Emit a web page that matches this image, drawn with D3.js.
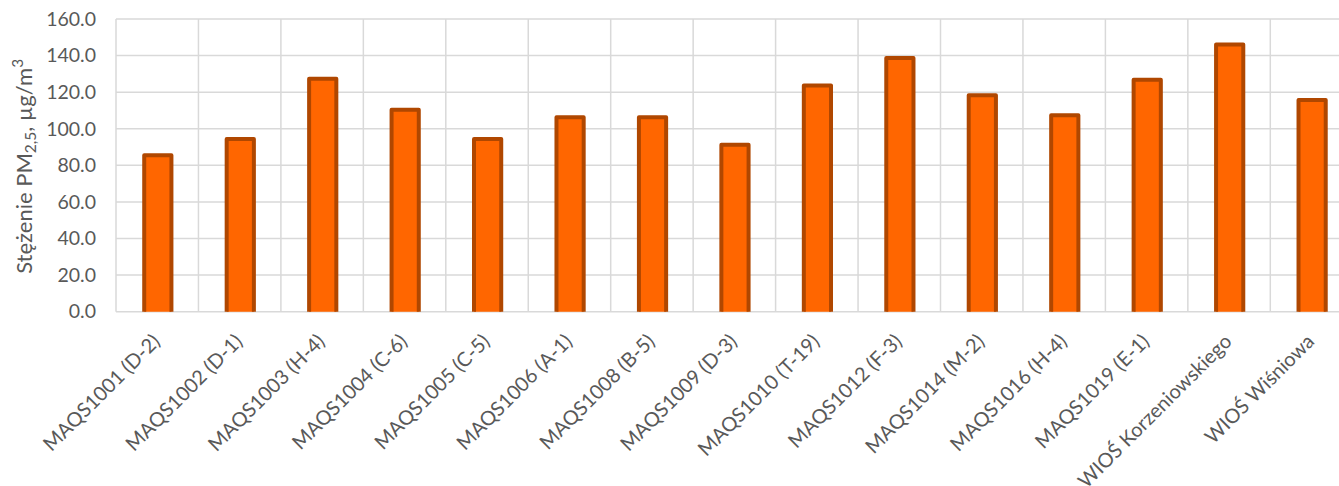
<!DOCTYPE html>
<html>
<head>
<meta charset="utf-8">
<script src="https://cdn.jsdelivr.net/npm/d3@7"></script>
<style>
  html, body { margin: 0; padding: 0; background: #fff; }
  svg { display: block; }
  text { font-family: Lato, "Open Sans", sans-serif; fill: #595959; }
</style>
</head>
<body>
<svg id="chart" width="1339" height="486"></svg>
<script>
// Stations
const categories = [
  "MAQS1001 (D-2)", "MAQS1002 (D-1)", "MAQS1003 (H-4)", "MAQS1004 (C-6)",
  "MAQS1005 (C-5)", "MAQS1006 (A-1)", "MAQS1008 (B-5)", "MAQS1009 (D-3)",
  "MAQS1010 (T-19)", "MAQS1012 (F-3)", "MAQS1014 (M-2)", "MAQS1016 (H-4)",
  "MAQS1019 (E-1)", "WIOŚ Korzeniowskiego", "WIOŚ Wiśniowa"
];
// PM2.5 concentration, µg/m3
const pm25 = [85.5, 94.4, 127.4, 110.4, 94.4, 106.3, 106.3, 91.3, 123.6, 138.7, 118.3, 107.4, 126.8, 146.0, 115.7];
const yTicks = [0, 20, 40, 60, 80, 100, 120, 140, 160];

const svg = d3.select("#chart");
const margin = { left: 116, top: 19 };
const plotH = 292.7;
const plotW = 15 * 82.45;

const x = d3.scaleBand().domain(categories).range([0, plotW]).padding(0);
const y = d3.scaleLinear().domain([0, 160]).range([plotH, 0]);

const g = svg.append("g").attr("transform", `translate(${margin.left},${margin.top})`);

// grid: horizontal at each tick, vertical at category boundaries
const grid = g.append("g").attr("stroke", "#d9d9d9").attr("stroke-width", 1.5);
grid.selectAll("line.h").data(yTicks).join("line")
  .attr("x1", 0).attr("x2", plotW)
  .attr("y1", d => y(d)).attr("y2", d => y(d));
const bounds = categories.map(c => x(c)).concat([plotW]);
grid.selectAll("line.v").data(bounds).join("line")
  .attr("x1", d => d).attr("x2", d => d)
  .attr("y1", 0).attr("y2", plotH);

// y tick labels
const yAxis = d3.axisLeft(y).tickValues(yTicks).tickFormat(d3.format(".1f")).tickSize(0).tickPadding(20);
const ya = g.append("g").call(yAxis);
ya.select(".domain").remove();
ya.selectAll("text").style("font-size", "19.5px").attr("fill", "#595959")
  .style("font-family", "Lato, 'Open Sans', sans-serif");

// bars
g.append("clipPath").attr("id", "plotclip")
  .append("rect").attr("x", 0).attr("y", -10).attr("width", plotW).attr("height", plotH + 10);

const barW = x.bandwidth() * 0.33;
g.append("g").attr("clip-path", "url(#plotclip)")
  .selectAll("rect").data(pm25).join("rect")
  .attr("x", (d, i) => x(categories[i]) + x.bandwidth() / 2 - barW / 2 + 0.6)
  .attr("y", d => y(d))
  .attr("width", barW)
  .attr("height", d => plotH - y(d) + 4)
  .attr("fill", "#ff6600")
  .attr("stroke", "#b04700")
  .attr("stroke-width", 4)
  .attr("stroke-linejoin", "round");

// x axis labels, rotated
const xAxis = d3.axisBottom(x).tickSize(0).tickPadding(0);
const xa = g.append("g").attr("transform", `translate(0,${plotH})`).call(xAxis);
xa.select(".domain").remove();
xa.selectAll("text")
  .style("font-size", "20px")
  .style("font-family", "Lato, 'Open Sans', sans-serif")
  .attr("fill", "#595959")
  .attr("text-anchor", "end")
  .attr("dy", null).attr("y", null)
  .attr("transform", "translate(4,31) rotate(-45)")
  .attr("dominant-baseline", "auto");

// y axis title with sub/superscript
const title = svg.append("text")
  .attr("transform", `translate(32,${margin.top + plotH / 2 + 1}) rotate(-90)`)
  .attr("text-anchor", "middle")
  .style("font-size", "22px");
title.append("tspan").text("Stężenie PM");
title.append("tspan").attr("dy", 4).style("font-size", "15.5px").text("2,5");
title.append("tspan").attr("dy", -4).text(", µg/m");
title.append("tspan").attr("dy", -9).style("font-size", "15.5px").text("3");
</script>
</body>
</html>
